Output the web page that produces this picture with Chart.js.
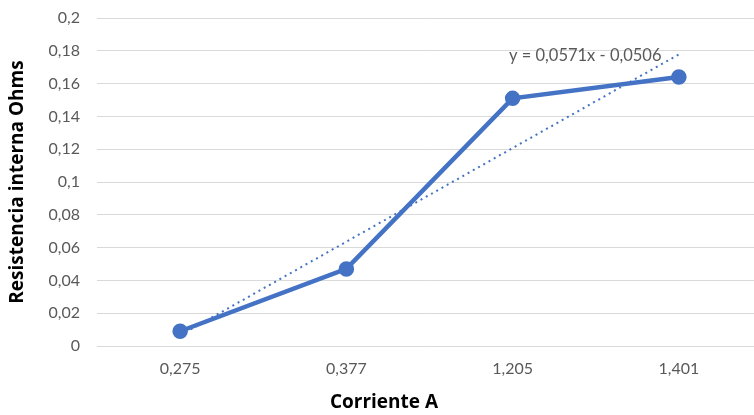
<!DOCTYPE html>
<html lang="es">
<head>
    <meta charset="UTF-8">
    <title>Resistencia interna vs Corriente</title>
    <script src="https://cdn.jsdelivr.net/npm/chart.js"></script>
    <style>
        html, body {
            margin: 0;
            padding: 0;
            background: #ffffff;
            overflow: hidden;
        }
        .chart-box {
            position: relative;
            width: 772px;
            height: 415px;
        }
    </style>
</head>
<body>
    <div class="chart-box">
        <canvas id="resChart"></canvas>
    </div>

    <script>
        // data
        const corriente = ['0,275', '0,377', '1,205', '1,401'];
        const resistencia = [0.009, 0.047, 0.151, 0.164];
        // linear trend y = 0,0571x - 0,0506 evaluated at x = 1..4
        const tendencia = [0.0065, 0.0636, 0.1207, 0.1778];
        const trendLabel = 'y = 0,0571x - 0,0506';

        const blue = '#4472C4';
        const grey = '#595959';
        const tickFont = 'Lato, "Open Sans", sans-serif';
        const titleFont = '"Open Sans", "DejaVu Sans", sans-serif';

        const extraText = {
            id: 'extraText',
            afterDraw(chart) {
                const ctx = chart.ctx;
                ctx.save();
                ctx.fillStyle = grey;
                ctx.font = '16.5px ' + tickFont;
                ctx.textAlign = 'left';
                ctx.textBaseline = 'middle';
                ctx.fillText(trendLabel, 509, 56);

                ctx.fillStyle = '#000000';
                ctx.font = 'bold 19px ' + titleFont;
                ctx.textAlign = 'center';
                ctx.fillText('Corriente A', 384, 403);
                ctx.restore();
            }
        };

        new Chart(document.getElementById('resChart'), {
            type: 'line',
            data: {
                labels: corriente,
                datasets: [{
                    label: 'Resistencia',
                    data: resistencia,
                    borderColor: blue,
                    backgroundColor: blue,
                    borderWidth: 4.5,
                    pointRadius: 5.5,
                    pointHoverRadius: 5.5,
                    tension: 0
                }, {
                    label: 'Lineal',
                    data: tendencia,
                    borderColor: blue,
                    borderWidth: 2,
                    borderDash: [2, 4],
                    pointRadius: 0,
                    fill: false,
                    tension: 0
                }]
            },
            options: {
                responsive: true,
                maintainAspectRatio: false,
                animation: false,
                layout: {
                    padding: { top: 0, right: 3, left: 0, bottom: 0 }
                },
                plugins: {
                    legend: { display: false },
                    tooltip: { enabled: false }
                },
                scales: {
                    x: {
                        offset: true,
                        grid: { display: false, drawTicks: false },
                        border: { display: false },
                        ticks: {
                            color: grey,
                            font: { family: tickFont, size: 16 },
                            padding: 13
                        },
                        afterFit: (s) => {
                            s.height = 69;
                            s.paddingLeft = 0;
                            s.paddingRight = 0;
                        }
                    },
                    y: {
                        min: 0,
                        max: 0.2,
                        grid: { color: '#d9d9d9', lineWidth: 1, drawTicks: false },
                        border: { display: false },
                        ticks: {
                            stepSize: 0.02,
                            color: grey,
                            padding: 17,
                            font: { family: tickFont, size: 16 },
                            callback: (v) => String(Math.round(v * 100) / 100).replace('.', ',')
                        },
                        title: {
                            display: true,
                            text: 'Resistencia interna Ohms',
                            color: '#000000',
                            font: { family: titleFont, size: 19, weight: 'bold' },
                            padding: { top: 6, bottom: 0 }
                        },
                        afterFit: (s) => {
                            s.width = 97;
                            s.paddingTop = 18;
                            s.paddingBottom = 0;
                        }
                    }
                }
            },
            plugins: [extraText]
        });
    </script>
</body>
</html>
